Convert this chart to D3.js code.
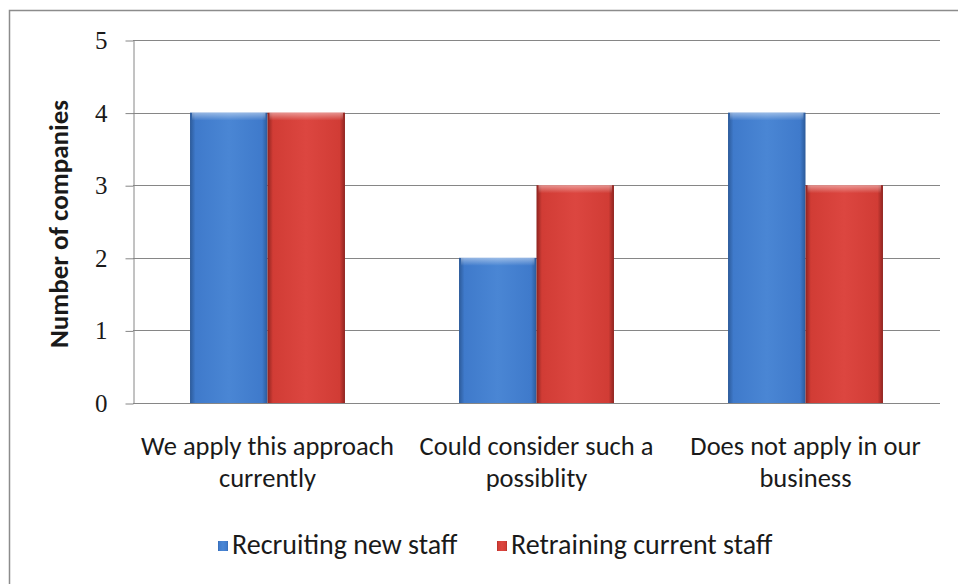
<!DOCTYPE html>
<html>
<head>
<meta charset="utf-8">
<script src="https://cdn.jsdelivr.net/npm/d3@7"></script>
<style>
  html, body { margin: 0; padding: 0; background: #fff; }
  svg { display: block; }
</style>
</head>
<body>
<svg id="chart" width="958" height="584"></svg>
<script>
// Survey answers per approach
const categories = [
  ["We apply this approach", "currently"],
  ["Could consider such a", "possiblity"],
  ["Does not apply in our", "business"]
];
const seriesNames = ["Recruiting new staff", "Retraining current staff"];
const recruiting = [4, 2, 4];
const retraining = [4, 3, 3];
const yTicks = [0, 1, 2, 3, 4, 5];

const svg = d3.select("#chart");
const W = 958, H = 584;
const plot = { left: 133, right: 940, top: 40, bottom: 403 };

const labelFont = "Carlito, Calibri, Lato, 'Open Sans', sans-serif";
const tickFont = "'Liberation Serif', 'DejaVu Serif', serif";

// Outer chart frame
svg.append("rect")
  .attr("x", 9.5).attr("y", 10.5)
  .attr("width", W + 20).attr("height", H + 20)
  .attr("fill", "#fff").attr("stroke", "#8c8c8c").attr("stroke-width", 1.5);

// Gradients giving the bars their rounded, bevelled look
const defs = svg.append("defs");
const palettes = [
  { id: "gBlue", edge: "#2c5a99", mid: "#3f7acb", light: "#4a86d4" },
  { id: "gRed",  edge: "#8e2420", mid: "#d13c35", light: "#dc4640" }
];
palettes.forEach(p => {
  const g = defs.append("linearGradient").attr("id", p.id)
    .attr("x1", "0").attr("x2", "1").attr("y1", "0").attr("y2", "0");
  [[0, p.edge], [0.07, p.mid], [0.5, p.light], [0.93, p.mid], [1, p.edge]]
    .forEach(([o, c]) => g.append("stop").attr("offset", o).attr("stop-color", c));
  const t = defs.append("linearGradient").attr("id", p.id + "Top")
    .attr("x1", "0").attr("x2", "0").attr("y1", "0").attr("y2", "1");
  t.append("stop").attr("offset", 0).attr("stop-color", "#fff").attr("stop-opacity", 0.45);
  t.append("stop").attr("offset", 1).attr("stop-color", "#fff").attr("stop-opacity", 0);
});

const y = d3.scaleLinear().domain([0, 5]).range([plot.bottom, plot.top]);
const x0 = d3.scaleBand().domain(d3.range(categories.length))
  .range([plot.left, plot.right]).paddingInner(0.424).paddingOuter(0.212);
const x1 = d3.scaleBand().domain(d3.range(seriesNames.length))
  .range([0, x0.bandwidth()]);

// Horizontal gridlines
svg.append("g").selectAll("line").data(yTicks.filter(d => d > 0)).join("line")
  .attr("x1", plot.left).attr("x2", plot.right)
  .attr("y1", d => Math.round(y(d)) + 0.5).attr("y2", d => Math.round(y(d)) + 0.5)
  .attr("stroke", "#868686").attr("stroke-width", 1);

// Y axis with outward ticks
const yAxis = svg.append("g")
  .attr("transform", `translate(${plot.left + 0.5},0.5)`)
  .call(d3.axisLeft(y).tickValues(yTicks).tickFormat(d3.format("d"))
    .tickSize(8).tickPadding(18).tickSizeOuter(0));
yAxis.select(".domain").attr("stroke", "#868686");
yAxis.selectAll(".tick line").attr("stroke", "#868686");
yAxis.selectAll("text")
  .attr("font-family", tickFont).attr("font-size", 25).attr("fill", "#1a1a1a");

// Bars
const series = [recruiting, retraining];
const fills = ["gBlue", "gRed"];
const groups = svg.append("g").selectAll("g").data(categories).join("g")
  .attr("transform", (d, i) => `translate(${x0(i)},0)`);
groups.each(function (_, ci) {
  const g = d3.select(this);
  series.forEach((vals, si) => {
    const bx = x1(si), bw = x1.bandwidth();
    const by = y(vals[ci]), bh = y(0) - y(vals[ci]);
    g.append("rect").attr("x", bx).attr("y", by).attr("width", bw).attr("height", bh)
      .attr("fill", `url(#${fills[si]})`);
    g.append("rect").attr("x", bx + 2).attr("y", by).attr("width", bw - 4).attr("height", 8)
      .attr("fill", `url(#${fills[si]}Top)`);
  });
});

// X axis baseline
svg.append("line")
  .attr("x1", plot.left).attr("x2", plot.right)
  .attr("y1", plot.bottom + 0.5).attr("y2", plot.bottom + 0.5)
  .attr("stroke", "#868686");

// Category labels (two lines each)
const cat = svg.append("g").selectAll("text").data(categories).join("text")
  .attr("text-anchor", "middle")
  .attr("font-family", labelFont).attr("font-size", 26.5).attr("fill", "#1a1a1a");
cat.each(function (lines, i) {
  const t = d3.select(this);
  lines.forEach((ln, k) => {
    t.append("tspan").attr("x", x0(i) + x0.bandwidth() / 2)
      .attr("y", 455 + k * 32).text(ln);
  });
});

// Y axis title
svg.append("text")
  .attr("transform", `translate(68,224) rotate(-90)`)
  .attr("text-anchor", "middle")
  .attr("font-family", labelFont).attr("font-size", 27).attr("font-weight", "bold")
  .attr("fill", "#1a1a1a")
  .text("Number of companies");

// Legend
const legendX = [218, 497];
const legend = svg.append("g").selectAll("g").data(seriesNames).join("g")
  .attr("transform", (d, i) => `translate(${legendX[i]},541)`);
legend.append("rect").attr("width", 10).attr("height", 10)
  .attr("fill", (d, i) => `url(#${fills[i]})`);
legend.append("text").attr("x", 14).attr("y", 13)
  .attr("font-family", labelFont).attr("font-size", 28).attr("fill", "#1a1a1a")
  .text(d => d);
</script>
</body>
</html>
